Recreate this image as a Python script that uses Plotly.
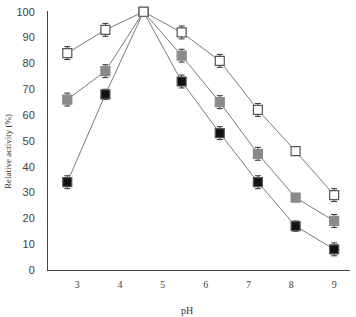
import plotly.graph_objects as go

ph = [2.77, 3.66, 4.55, 5.44, 6.33, 7.22, 8.1, 9.0]
open_vals = [84, 93, 100, 92, 81, 62, 46, 29]
gray_vals = [66, 77, 100, 83, 65, 45, 28, 19]
black_vals = [34, 68, 100, 73, 53, 34, 17, 8]
err_open = [2.5, 2.5, 0.5, 2.5, 2.5, 2.5, 1.5, 2.5]
err_gray = [2.5, 2.5, 0.5, 2.5, 2.5, 2.5, 1.5, 2.5]
err_black = [2.5, 2.0, 0.5, 2.5, 2.5, 2.5, 2.0, 2.5]
x_ticks = [3, 4, 5, 6, 7, 8, 9]
y_ticks = list(range(0, 101, 10))

fig = go.Figure()

def add(vals, err, fill, line_col):
    fig.add_trace(go.Scatter(
        x=ph, y=vals, mode="lines+markers", cliponaxis=False,
        line=dict(color="#7a7a7a", width=1),
        marker=dict(symbol="square", size=9, color=fill,
                    line=dict(color=line_col, width=1.2)),
        error_y=dict(type="data", array=err, visible=True,
                     color="#333333", thickness=1, width=3),
        showlegend=False,
    ))

add(black_vals, err_black, "#111111", "#555555")
add(gray_vals, err_gray, "#8a8a8a", "#8a8a8a")
add(open_vals, err_open, "#ffffff", "#555555")

W, H = 356, 317
L, R, T, B = 48, 6, 11, 47
pw = W - L - R
phh = H - T - B

fig.update_layout(
    width=W, height=H,
    margin=dict(l=L, r=R, t=T, b=B),
    paper_bgcolor="white", plot_bgcolor="white",
    xaxis=dict(range=[2.32, 9.37], tickvals=x_ticks, ticktext=[str(v) for v in x_ticks],
               showgrid=False, zeroline=False, showline=True, linecolor="#444444",
               linewidth=1, ticks="", ticklen=0, ticklabelstandoff=5,
               tickfont=dict(family="Liberation Serif, Times New Roman, serif", size=10, color="#404040")),
    yaxis=dict(range=[0, 100.3], tickvals=y_ticks, showgrid=False, zeroline=False,
               showline=True, linecolor="#444444", linewidth=1, ticks="", ticklabelstandoff=10,
               tickfont=dict(family="Liberation Sans Narrow, Liberation Sans, Arial, sans-serif", size=11, color="#404040")),
    annotations=[
        dict(text="pH", xref="paper", yref="paper", showarrow=False,
             x=(187 - L) / pw, y=(H - B - 310) / phh, xanchor="center", yanchor="middle",
             font=dict(family="Liberation Serif, Times New Roman, serif", size=10, color="#333333")),
        dict(text="Relative activity (%)", xref="paper", yref="paper", showarrow=False,
             textangle=-90, x=(8 - L) / pw, y=(H - B - 152) / phh, xanchor="center", yanchor="middle",
             font=dict(family="Liberation Serif, Times New Roman, serif", size=9, color="#333333")),
    ],
)

fig.write_html("out.html", config={"displayModeBar": False},
               post_script="document.body.style.margin='0';")
